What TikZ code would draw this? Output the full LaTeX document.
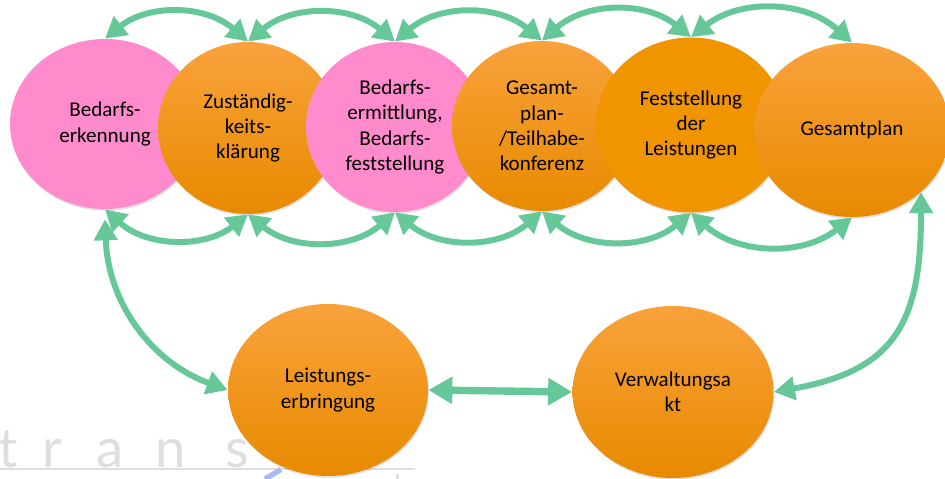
\documentclass[tikz,border=0pt]{standalone}
\usepackage{fontspec}
\setmainfont{Carlito}
\newfontfamily\wmfont{Lato}
\usetikzlibrary{shapes.geometric,arrows.meta,shadows}
\definecolor{stagepink}{RGB}{255,138,204}
\definecolor{orangetop}{RGB}{249,162,60}
\definecolor{orangemid}{RGB}{247,150,0}
\definecolor{orangebot}{RGB}{232,138,0}
\definecolor{orangeflat}{RGB}{240,148,0}
\definecolor{linkgreen}{RGB}{102,200,152}
\definecolor{wmgrey}{RGB}{222,222,222}
\definecolor{wmblue}{RGB}{170,184,248}

\begin{document}
\begin{tikzpicture}[
  stage/.style={ellipse, inner sep=0pt, align=center,
    font=\fontsize{12}{14.5}\selectfont,
    drop shadow={opacity=0.25, shadow xshift=0.5pt, shadow yshift=-1pt}},
  pinkstage/.style={stage, fill=stagepink},
  orangestage/.style={stage, top color=orangetop, middle color=orangemid, bottom color=orangebot},
  darkstage/.style={stage, fill=orangeflat},
  wmark/.style={anchor=base, text=wmgrey, inner sep=0pt, font=\wmfont\fontsize{31}{31}\selectfont},
  link/.style={draw=linkgreen, line width=3.4pt,
    {Triangle[length=0.42cm,width=0.46cm]}-{Triangle[length=0.42cm,width=0.46cm]}},
  widelink/.style={draw=linkgreen, line width=4.2pt,
    {Triangle[length=0.48cm,width=0.52cm]}-{Triangle[length=0.48cm,width=0.52cm]}}
]
  \useasboundingbox (0,0) rectangle (18.9,9.58);
  % watermark
  \foreach \c/\x in {t/0.16,r/1.05,a/2.2,n/3.42,s/4.75}
    \node[wmark] (wm\c) at (\x,0.24) {\c};
  \draw[wmgrey, line width=1.2pt] (0,0.2) -- (8.3,0.2);
  \draw[wmgrey, line width=2pt] (7.95,0) -- (7.95,0.1);
  \draw[wmblue, line width=3pt] (5.3,0) -- (5.62,0.19);
  %
  \node[pinkstage, minimum width=3.8cm, minimum height=3.4cm] (erkennung) at (2.10,7.10) {Bedarfs-\\erkennung};
  \node[orangestage, minimum width=3.6cm, minimum height=3.44cm] (zustaendig) at (4.96,7.02) {Zuständig-\\keits-\\klärung};
  \node[pinkstage, minimum width=3.56cm, minimum height=3.4cm] (ermittlung) at (7.90,7.04) {Bedarfs-\\ermittlung,\\Bedarfs-\\feststellung};
  \node[orangestage, minimum width=3.6cm, minimum height=3.4cm] (konferenz) at (10.84,7.06) {Gesamt-\\plan-\\/Teilhabe-\\konferenz};
  \node[darkstage, minimum width=3.8cm, minimum height=3.5cm] (feststellung) at (13.82,7.08) {Feststellung\\der\\Leistungen};
  \node[orangestage, minimum width=3.92cm, minimum height=3.48cm] (gesamtplan) at (17.04,6.98) {Gesamtplan};
  %
  \node[orangestage, minimum width=4cm, minimum height=3.44cm] (erbringung) at (6.56,1.78) {Leistungs-\\erbringung};
  \node[orangestage, minimum width=4.02cm, minimum height=3.44cm] (verwaltungsakt) at (13.46,1.74) {Verwaltungsa\\kt};
  %
  \foreach \a/\b in {erkennung/zustaendig,zustaendig/ermittlung,ermittlung/konferenz,konferenz/feststellung,feststellung/gesamtplan}{
    \draw[link] (\a.north) to[bend left=40] (\b.north);
    \draw[link] (\a.south) to[bend right=40] (\b.south);
  }
  %
  \draw[link] ([yshift=-2mm]erkennung.south) to[out=-88,in=160] (erbringung.west);
  \draw[widelink] (erbringung.east) -- (verwaltungsakt.west);
  \draw[link] (gesamtplan.-42) to[out=-90,in=10,looseness=1.3] (verwaltungsakt.east);
\end{tikzpicture}
\end{document}
